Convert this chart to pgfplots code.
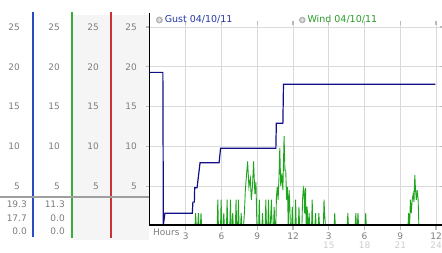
\documentclass[border=0pt]{standalone}
\usepackage{fontspec}
\setmainfont{DejaVu Sans}
\usepackage{pgfplots}
\pgfplotsset{compat=1.18}
\definecolor{gustc}{RGB}{15,15,135}
\definecolor{windc}{RGB}{30,165,30}
\definecolor{gustt}{RGB}{35,55,165}
\definecolor{windt}{RGB}{40,155,40}
\definecolor{tickg}{RGB}{125,125,125}
\definecolor{lightg}{RGB}{205,205,205}
\definecolor{gridg}{RGB}{218,218,218}
\definecolor{panelg}{RGB}{245,245,245}
\definecolor{sepblue}{RGB}{40,75,200}
\definecolor{sepgreen}{RGB}{55,175,55}
\definecolor{sepred}{RGB}{205,50,50}
\pgfplotsset{
  colax/.style={
    scale only axis, width=2pt, height=201pt, anchor=south west,
    xmin=0, xmax=1, ymin=0, ymax=25.25,
    xtick=\empty, ytick={5,10,15,20,25},
    axis line style={draw=none}, major tick length=0pt,
    /pgf/number format/assume math mode=true,
    yticklabel style={inner sep=0pt, anchor=east, text=tickg, font=\fontsize{9}{9}\selectfont},
  }
}
\begin{document}
\begin{tikzpicture}[x=1pt,y=1pt]
\useasboundingbox (0,0) rectangle (442,253);
% panel backgrounds and separators
\fill[panelg] (72.5,13) rectangle (149,238);
\draw[sepblue, line width=1.1pt] (33,241) -- (33,16);
\draw[sepgreen, line width=1.1pt] (72,241) -- (72,15);
\draw[sepred, line width=1.1pt] (111,241) -- (111,15);
\draw[gray!75, line width=2pt] (0,56) -- (149,56);
% scale columns
\begin{axis}[colax, at={(20pt,27pt)}]\end{axis}
\begin{axis}[colax, at={(60pt,27pt)}]\end{axis}
\begin{axis}[colax, at={(99pt,27pt)}]\end{axis}
% current values
\begin{scope}[every node/.style={inner sep=0pt, anchor=east, text=tickg, font=\fontsize{9}{9}\selectfont}]
\node at (27,49) {19.3};
\node at (27,35) {17.7};
\node at (27,22) {0.0};
\node at (65,49) {11.3};
\node at (65,35) {0.0};
\node at (65,22) {0.0};
\end{scope}
% main chart
\begin{axis}[
  at={(150pt,27pt)}, anchor=south west, scale only axis,
  width=289.6pt, height=201pt,
  xmin=0, xmax=24.3, ymin=0, ymax=25.25,
  clip=true,
  axis line style={draw=none},
  grid=major, major grid style={gridg, line width=0.8pt},
  xtick={3,6,9,12,15,18,21,24},
  xticklabels={3,6,9,12,{3\\\textcolor{lightg}{15}},{6\\\textcolor{lightg}{18}},{9\\\textcolor{lightg}{21}},{12\\\textcolor{lightg}{24}}},
  ytick={5,10,15,20,25},
  tick align=outside, major tick length=4pt,
  tick style={draw=gray!55, line width=1.2pt},
  /pgf/number format/assume math mode=true,
  xticklabel style={inner sep=0pt, anchor=north, align=center, text=tickg, font=\fontsize{9}{9}\selectfont, yshift=-3pt},
  yticklabel style={inner sep=0pt, anchor=east, text=tickg, font=\fontsize{9}{9}\selectfont, xshift=-9pt},
  legend columns=2,
  legend style={draw=none, fill=none, inner sep=0pt, outer sep=0pt,
    at={(axis description cs:0.0207,1.025)}, anchor=west,
    font=\fontsize{9.5}{10}\selectfont,
    /tikz/every even column/.append style={column sep=64.5pt}},
  legend cell align=left,
]
\addplot[gustc, line width=1.2pt, sharp plot,
  legend image code/.code={\fill[gray!60] (2.8pt,0pt) circle (2.8pt); \fill[gray!25] (2.8pt,0pt) circle (1.4pt);}]
coordinates {
(0,19.3) (1.08,19.3) (1.12,0.1) (1.25,1.6) (3.55,1.6) (3.6,3.0) (3.72,3.0)
(3.75,4.8) (3.95,4.8) (4.2,7.95) (5.8,7.95) (5.92,9.76) (10.56,9.76)
(10.6,12.9) (11.15,12.9) (11.2,17.8) (23.95,17.8)
};
\addlegendentry{\textcolor{gustt}{Gust 04/10/11}}
\addplot[windc, line width=0.9pt, sharp plot,
  legend image code/.code={\fill[gray!60] (2.8pt,0pt) circle (2.8pt); \fill[gray!25] (2.8pt,0pt) circle (1.4pt);}]
coordinates {
(0,0)
(3.78,0) (3.83,1.6) (3.88,0)
(4.01,0) (4.06,1.6) (4.11,0)
(4.23,0) (4.28,1.6) (4.33,0)
(5.64,0) (5.69,3.3) (5.74,0)
(5.92,0) (5.97,3.3) (6.02,0)
(6.14,0) (6.19,1.6) (6.24,0)
(6.42,0) (6.47,3.3) (6.52,0)
(6.70,0) (6.75,3.3) (6.80,0)
(6.89,0) (6.94,1.6) (6.99,0)
(7.17,0) (7.22,3.3) (7.27,0)
(7.37,0) (7.42,3.3) (7.47,0)
(7.60,0) (7.65,1.6) (7.70,0)
(7.85,0) (7.92,1.6) (8.00,4.5) (8.10,6.4) (8.19,8.1) (8.30,4.9) (8.42,6.0) (8.50,3.3) (8.60,5.0) (8.69,8.1) (8.80,4.0) (8.89,5.5) (8.97,0)
(9.12,0) (9.17,3.3) (9.22,0)
(9.39,0) (9.44,1.6) (9.49,0)
(9.67,0) (9.72,3.3) (9.77,0)
(9.89,0) (9.94,3.3) (9.99,0)
(10.09,0) (10.14,1.6) (10.19,3.3) (10.24,0)
(10.37,0) (10.42,2.4) (10.47,0)
(10.56,0) (10.61,3.7) (10.68,4.9) (10.75,3.3) (10.82,6.0) (10.89,9.8) (10.97,5.0) (11.06,6.6) (11.15,4.5) (11.25,11.3) (11.32,7.0) (11.39,7.0) (11.46,3.3) (11.53,4.9) (11.60,0) (11.67,4.5) (11.72,3.0) (11.78,0)
(11.89,0) (11.94,2.4) (11.99,0)
(12.17,0) (12.22,3.3) (12.27,0)
(12.45,0) (12.50,2.4) (12.55,0)
(12.75,0) (12.80,3.3) (12.87,4.8) (12.92,4.5) (12.97,1.6) (13.05,4.8) (13.10,0)
(13.14,0) (13.19,2.4) (13.24,0)
(13.30,0) (13.35,1.6) (13.40,0)
(13.56,0) (13.61,3.3) (13.66,0)
(13.84,0) (13.89,1.6) (13.94,0)
(14.12,0) (14.17,1.6) (14.22,0)
(14.55,0) (14.60,3.3) (14.65,1.6) (14.72,0)
(15.45,0) (15.50,1.6) (15.55,0)
(16.55,0) (16.60,1.6) (16.65,0)
(17.22,0) (17.27,1.6) (17.32,0)
(17.40,0) (17.45,1.6) (17.50,0)
(18.05,0) (18.10,1.6) (18.15,0)
(21.65,0) (21.70,1.6) (21.78,0) (21.85,3.3) (21.92,1.6) (22.00,3.3) (22.08,4.0) (22.15,3.0) (22.22,6.4) (22.28,4.5) (22.35,3.3) (22.42,4.5) (22.50,3.3) (22.56,0)
(24.3,0)
};
\addlegendentry{\textcolor{windt}{Wind 04/10/11}}
\end{axis}
% axis lines
\draw[black, line width=1.6pt] (149.5,240) -- (149.5,27.5);
\draw[black, line width=1.6pt] (149,28.0) -- (442,28.0);
\node[inner sep=0pt, anchor=west, text=tickg, font=\fontsize{9}{9}\selectfont] at (153,21) {Hours};
\end{tikzpicture}
\end{document}
